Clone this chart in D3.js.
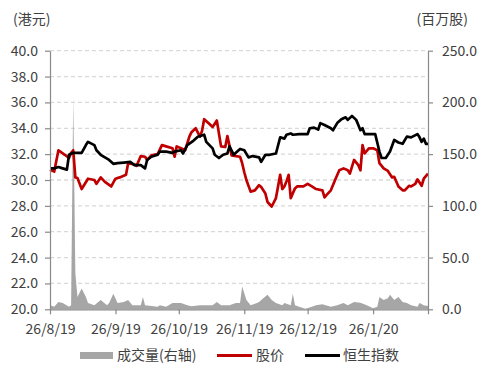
<!DOCTYPE html>
<html>
<head>
<meta charset="utf-8">
<script src="https://cdn.jsdelivr.net/npm/d3@7"></script>
<style>
  body { margin: 0; background: #fff; }
  text { font-family: "Noto Sans CJK SC", "Noto Sans", sans-serif; fill: #404040; }
</style>
</head>
<body>
<div id="chart"></div>
<script>
// Stock price (HKD, left axis)
const priceDates = ["2019-08-26","2019-08-28","2019-08-30","2019-09-02","2019-09-04","2019-09-05","2019-09-06","2019-09-07","2019-09-08","2019-09-10","2019-09-13","2019-09-16","2019-09-17","2019-09-19","2019-09-21","2019-09-24","2019-09-26","2019-09-28","2019-10-01","2019-10-02","2019-10-05","2019-10-06","2019-10-08","2019-10-10","2019-10-11","2019-10-13","2019-10-16","2019-10-18","2019-10-20","2019-10-23","2019-10-24","2019-10-25","2019-10-27","2019-10-29","2019-10-31","2019-11-01","2019-11-03","2019-11-05","2019-11-06","2019-11-07","2019-11-09","2019-11-11","2019-11-13","2019-11-15","2019-11-17","2019-11-18","2019-11-20","2019-11-22","2019-11-24","2019-11-25","2019-11-26","2019-11-27","2019-11-29","2019-12-01","2019-12-03","2019-12-04","2019-12-06","2019-12-07","2019-12-09","2019-12-11","2019-12-13","2019-12-14","2019-12-15","2019-12-16","2019-12-17","2019-12-18","2019-12-20","2019-12-21","2019-12-24","2019-12-26","2019-12-28","2019-12-30","2020-01-02","2020-01-03","2020-01-04","2020-01-06","2020-01-08","2020-01-10","2020-01-12","2020-01-14","2020-01-15","2020-01-17","2020-01-19","2020-01-20","2020-01-21","2020-01-22","2020-01-24","2020-01-26","2020-01-28","2020-01-29","2020-01-31","2020-02-02","2020-02-04","2020-02-05","2020-02-07","2020-02-09","2020-02-10","2020-02-12","2020-02-13","2020-02-15","2020-02-16","2020-02-18","2020-02-19","2020-02-20","2020-02-21"];
const priceValues = [30.8,30.65,32.3,31.95,31.7,32.1,32.3,30.2,30.15,29.3,30.1,30.0,29.7,30.2,29.85,29.5,30.1,30.2,30.4,31.3,31.2,31.1,31.85,31.8,31.55,31.9,32.0,32.7,32.6,32.45,31.8,32.6,32.45,32.3,33.35,33.7,34.0,33.35,33.8,34.7,34.4,34.1,34.6,32.6,32.55,33.4,31.9,31.85,31.8,31.3,30.6,30.0,29.1,29.2,29.6,29.45,28.95,28.3,27.95,28.6,30.4,29.3,29.5,29.9,30.4,28.6,29.35,29.5,29.5,29.7,29.5,29.3,29.2,28.65,28.85,29.2,30.0,30.75,30.9,30.75,30.5,31.55,31.15,30.75,32.7,32.05,32.45,32.45,32.3,31.3,30.9,30.7,30.2,30.25,29.5,29.2,29.2,29.55,29.5,29.7,30.05,29.55,30.1,30.3,30.5];

// Hang Seng index (rebased, left axis)
const indexDates = ["2019-08-26","2019-08-28","2019-08-30","2019-09-01","2019-09-03","2019-09-04","2019-09-06","2019-09-10","2019-09-12","2019-09-13","2019-09-16","2019-09-17","2019-09-19","2019-09-21","2019-09-23","2019-09-25","2019-09-27","2019-09-30","2019-10-03","2019-10-05","2019-10-08","2019-10-10","2019-10-11","2019-10-13","2019-10-16","2019-10-17","2019-10-20","2019-10-23","2019-10-24","2019-10-27","2019-10-28","2019-10-30","2019-11-02","2019-11-04","2019-11-07","2019-11-08","2019-11-11","2019-11-12","2019-11-14","2019-11-16","2019-11-18","2019-11-19","2019-11-21","2019-11-22","2019-11-24","2019-11-26","2019-11-28","2019-11-30","2019-12-03","2019-12-04","2019-12-06","2019-12-08","2019-12-11","2019-12-13","2019-12-15","2019-12-16","2019-12-18","2019-12-19","2019-12-22","2019-12-26","2019-12-27","2019-12-29","2019-12-31","2020-01-01","2020-01-03","2020-01-06","2020-01-07","2020-01-09","2020-01-11","2020-01-13","2020-01-14","2020-01-16","2020-01-18","2020-01-19","2020-01-20","2020-01-21","2020-01-22","2020-01-25","2020-01-27","2020-01-29","2020-01-30","2020-02-01","2020-02-03","2020-02-05","2020-02-07","2020-02-09","2020-02-11","2020-02-13","2020-02-16","2020-02-17","2020-02-18","2020-02-19","2020-02-20","2020-02-21"];
const indexValues = [30.9,30.9,31.0,30.9,30.8,31.95,32.1,32.1,32.7,32.95,32.7,32.3,31.95,31.75,31.55,31.25,31.3,31.35,31.4,31.15,31.15,30.9,31.55,31.8,31.95,32.2,32.2,32.1,32.2,32.3,32.05,32.7,33.05,33.35,33.5,32.95,32.45,31.95,31.7,31.95,32.05,32.6,31.95,32.1,32.4,32.3,31.75,31.85,31.75,31.4,31.95,31.95,32.05,33.3,33.2,33.5,33.6,33.5,33.55,33.55,34.0,34.05,33.9,34.4,34.25,34.0,33.85,34.4,34.7,34.85,34.65,34.95,34.65,34.25,33.85,34.0,33.55,33.55,33.55,32.2,31.7,31.7,32.2,33.1,32.9,32.8,33.35,33.3,33.55,33.3,32.95,33.2,32.8,32.8];

// Turnover (million shares, right axis)
const volDates = ["2019-08-26","2019-08-28","2019-08-30","2019-09-01","2019-09-04","2019-09-05","2019-09-06","2019-09-07","2019-09-08","2019-09-10","2019-09-12","2019-09-13","2019-09-16","2019-09-19","2019-09-22","2019-09-23","2019-09-25","2019-09-27","2019-09-30","2019-10-02","2019-10-04","2019-10-08","2019-10-09","2019-10-10","2019-10-12","2019-10-16","2019-10-17","2019-10-20","2019-10-23","2019-10-27","2019-10-30","2019-11-01","2019-11-05","2019-11-11","2019-11-13","2019-11-15","2019-11-19","2019-11-22","2019-11-24","2019-11-25","2019-11-27","2019-11-29","2019-12-02","2019-12-03","2019-12-05","2019-12-07","2019-12-09","2019-12-11","2019-12-14","2019-12-15","2019-12-18","2019-12-19","2019-12-20","2019-12-22","2019-12-25","2019-12-28","2019-12-30","2020-01-02","2020-01-06","2020-01-09","2020-01-12","2020-01-14","2020-01-17","2020-01-20","2020-01-23","2020-01-26","2020-01-28","2020-01-29","2020-01-31","2020-02-02","2020-02-03","2020-02-05","2020-02-07","2020-02-09","2020-02-11","2020-02-13","2020-02-16","2020-02-17","2020-02-19","2020-02-20","2020-02-21"];
const volValues = [4,2.5,7,6,2.5,4,205,35,12,20,12,6,4,9,4,6,15,6,7,9,4,4,12,4,3.5,2.5,4,2.5,6,6,4,3,4,4,7,4,4,6,6,22,9,4,6,7,10.6,14,9,6,4,6,4,15,4,2.5,0.5,2.5,4,5,2.5,4,6,4,7,6.4,4,1,2.5,12,9,10.6,14,9,12,7,6,4,2.5,6,4,3.5,3.5];

const xTickDates = ["2019-08-26","2019-09-26","2019-10-26","2019-11-26","2019-12-26","2020-01-26","2020-02-21"];
const leftTicks = [20,22,24,26,28,30,32,34,36,38,40];
const rightTicks = [0,50,100,150,200,250];

const W = 492, H = 365;
const plot = { left: 50, right: 428, top: 50.7, bottom: 309.3 };
const parse = d3.timeParse("%Y-%m-%d");

const svg = d3.select("#chart").append("svg")
  .attr("width", W).attr("height", H);

const x = d3.scaleTime()
  .domain([parse("2019-08-26"), parse("2020-02-21")])
  .range([plot.left, plot.right]);
const yL = d3.scaleLinear().domain([20, 40]).range([plot.bottom, plot.top]);
const yR = d3.scaleLinear().domain([0, 250]).range([plot.bottom, plot.top]);

// gridlines
svg.append("g").selectAll("line")
  .data(leftTicks.filter(d => d > 20))
  .enter().append("line")
  .attr("x1", plot.left).attr("x2", plot.right)
  .attr("y1", d => yL(d)).attr("y2", d => yL(d))
  .attr("stroke", "#d9d9d9").attr("stroke-width", 1.3)
  .attr("stroke-dasharray", "4 3");

// volume area
const vol = volDates.map((d, i) => ({ date: parse(d), v: volValues[i] }));
svg.append("path")
  .datum(vol)
  .attr("fill", "#a6a6a6")
  .attr("d", d3.area().x(d => x(d.date)).y0(yR(0)).y1(d => yR(d.v)));

// lines
const lineL = d3.line().x(d => x(d.date)).y(d => yL(d.v));
const price = priceDates.map((d, i) => ({ date: parse(d), v: priceValues[i] }));
const hsi = indexDates.map((d, i) => ({ date: parse(d), v: indexValues[i] }));

svg.append("path").datum(price)
  .attr("fill", "none").attr("stroke", "#c00000")
  .attr("stroke-width", 2.7).attr("stroke-linejoin", "round")
  .attr("d", lineL);
svg.append("path").datum(hsi)
  .attr("fill", "none").attr("stroke", "#000")
  .attr("stroke-width", 2.7).attr("stroke-linejoin", "round")
  .attr("d", lineL);

// axes
function styleAxis(g) {
  g.selectAll("path.domain").attr("stroke", "#898989").attr("stroke-width", 1.2);
  g.selectAll(".tick line").attr("stroke", "#898989").attr("stroke-width", 1.2);
  g.selectAll("text").attr("font-size", 14).attr("fill", "#404040")
    .attr("font-family", '"Noto Sans CJK SC", sans-serif');
}

const fmtDate = d3.timeFormat("%-d/%-m/%y");
svg.append("g")
  .attr("transform", `translate(0,${plot.bottom})`)
  .call(d3.axisBottom(x)
    .tickValues(xTickDates.map(parse))
    .tickSize(5).tickSizeOuter(0).tickPadding(10)
    .tickFormat((d, i) => i === xTickDates.length - 1 ? "" : fmtDate(d)))
  .call(styleAxis);

svg.append("g")
  .attr("transform", `translate(${plot.left},0)`)
  .call(d3.axisLeft(yL).tickValues(leftTicks).tickSize(5).tickSizeOuter(0)
    .tickPadding(7).tickFormat(d3.format(".1f")))
  .call(styleAxis);

svg.append("g")
  .attr("transform", `translate(${plot.right},0)`)
  .call(d3.axisRight(yR).tickValues(rightTicks).tickSize(5).tickSizeOuter(0)
    .tickPadding(9).tickFormat(d3.format(".1f")))
  .call(styleAxis);

// unit labels
svg.append("text").attr("x", 13).attr("y", 24).attr("font-size", 14).text("(港元)");
svg.append("text").attr("x", 468).attr("y", 24).attr("font-size", 14)
  .attr("text-anchor", "end").text("(百万股)");

// legend
const leg = svg.append("g");
leg.append("rect").attr("x", 80).attr("y", 352).attr("width", 33).attr("height", 7).attr("fill", "#a6a6a6");
leg.append("text").attr("x", 117).attr("y", 360).attr("font-size", 14).text("成交量(右轴)");
leg.append("line").attr("x1", 217).attr("x2", 252).attr("y1", 355.5).attr("y2", 355.5)
  .attr("stroke", "#c00000").attr("stroke-width", 3);
leg.append("text").attr("x", 256).attr("y", 360).attr("font-size", 14).text("股价");
leg.append("line").attr("x1", 305).attr("x2", 340).attr("y1", 355.5).attr("y2", 355.5)
  .attr("stroke", "#000").attr("stroke-width", 3);
leg.append("text").attr("x", 343).attr("y", 360).attr("font-size", 14).text("恒生指数");
</script>
</body>
</html>
